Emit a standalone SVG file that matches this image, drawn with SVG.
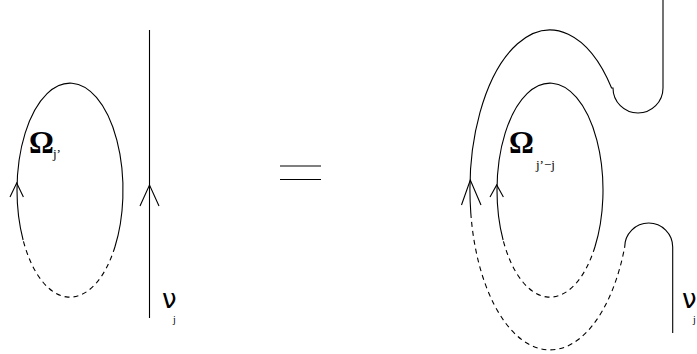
<svg xmlns="http://www.w3.org/2000/svg" width="697" height="354" viewBox="0 0 697 354">
<style>
.s{fill:none;stroke:#000;stroke-width:1.1}
.d{fill:none;stroke:#000;stroke-width:1.1;stroke-dasharray:5,4}
.om{font-family:"Liberation Serif","DejaVu Serif",serif;font-size:31px;font-weight:bold;fill:#000}
.sub{font-family:"Liberation Serif","DejaVu Serif",serif;font-size:13px;fill:#000}
.sj{font-family:"Liberation Serif","DejaVu Serif",serif;font-size:10px;fill:#000}
.nu{font-family:"DejaVu Sans","Liberation Sans",sans-serif;font-size:26px;fill:#000}
</style>
<rect width="697" height="354" fill="#fff"/>
<g id="left-loop">
<path class="s" d="M23.1,240 A53,107 0 1 1 114.9,247"/>
<path class="d" d="M114.9,247 A53,107 0 0 1 23.1,240"/>
<polyline class="s" points="10,197 16.7,183 23.4,197"/>
<text class="om" x="29" y="153">Ω</text>
<text class="sub" x="53" y="158">j’</text>
</g>
<g id="left-line">
<line class="s" x1="149.5" y1="30" x2="149.5" y2="318"/>
<polyline class="s" points="140,206 149.5,185 159,206"/>
<text class="nu" x="162" y="308">ν</text>
<text class="sj" x="173" y="323">j</text>
</g>
<g id="equals">
<line class="s" x1="280" y1="166" x2="321" y2="166"/>
<line class="s" x1="280" y1="179.5" x2="321" y2="179.5"/>
</g>
<g id="inner-loop">
<path class="s" d="M503.1,240 A53,107 0 1 1 594.9,247"/>
<path class="d" d="M594.9,247 A53,107 0 0 1 503.1,240"/>
<polyline class="s" points="490,197 496.7,185 503.4,197"/>
<text class="om" x="509" y="153">Ω</text>
<text class="sub" x="536" y="169">j’−j</text>
</g>
<g id="outer-curve">
<path class="s" d="M663,0 L663,88 A25,25 0 0 1 613,88 L611.6,88 A80,160 0 0 0 470.8,213"/>
<path class="d" d="M470.8,213 A80,160 0 0 0 624.7,247"/>
<path class="s" d="M624.7,247 A24,24 0 0 1 672.7,247 L672.7,333"/>
<polyline class="s" points="461.5,205 470.3,180 481,205"/>
<text class="nu" x="682" y="308">ν</text>
<text class="sj" x="693" y="323">j</text>
</g>
</svg>
